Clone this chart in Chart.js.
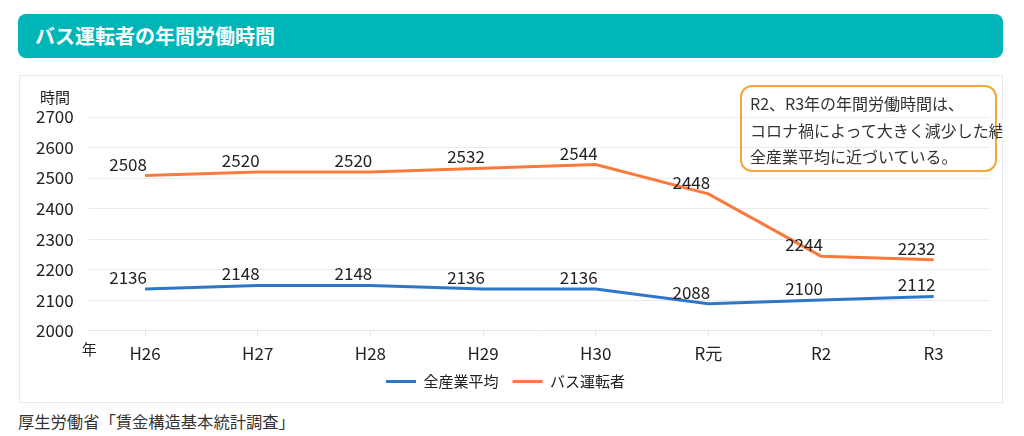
<!DOCTYPE html>
<html>
<head>
<meta charset="utf-8">
<script src="https://cdn.jsdelivr.net/npm/chart.js@4"></script>
<style>
  body { margin: 0; background: #fff; font-family: "Noto Sans CJK JP", "Noto Sans", sans-serif; color: #222; }
  #title {
    position: absolute; left: 18px; top: 14px; width: 985px; height: 44px;
    background: #00b5b8; border-radius: 8px; color: #fff;
    font-size: 20px; font-weight: bold; line-height: 44px; padding-left: 17px; box-sizing: border-box;
  }
  #box {
    position: absolute; left: 19px; top: 75px; width: 984px; height: 328px;
    border: 1px solid #e6e9ee; box-sizing: border-box; overflow: hidden;
  }
  #note {
    position: absolute; left: 720px; top: 9px; width: 257px; height: 87px;
    border: 2px solid #f7a53a; border-radius: 12px; box-sizing: border-box;
    font-size: 16px; line-height: 26.5px; padding: 3px 0 0 8px; white-space: nowrap; color: #333;
  }
  #src { position: absolute; left: 18px; top: 409px; font-size: 16.3px; color: #333; }
</style>
</head>
<body>
<div id="title">バス運転者の年間労働時間</div>
<div id="box">
  <canvas id="lineChart" width="982" height="326"></canvas>
  <div id="note">R2、R3年の年間労働時間は、<br>コロナ禍によって大きく減少した結果、<br>全産業平均に近づいている。</div>
</div>
<div id="src">厚生労働省「賃金構造基本統計調査」</div>
<script>
var years = ["H26", "H27", "H28", "H29", "H30", "R元", "R2", "R3"];
var allIndustry = [2136, 2148, 2148, 2136, 2136, 2088, 2100, 2112];
var busDrivers = [2508, 2520, 2520, 2532, 2544, 2448, 2244, 2232];
var yTicks = [2000, 2100, 2200, 2300, 2400, 2500, 2600, 2700];

var labelPlugin = {
    id: 'labels',
    afterDatasetsDraw: function(chart){
        var ctx = chart.ctx;
        ctx.save();
        ctx.font = '17px "Noto Sans CJK JP", sans-serif';
        ctx.fillStyle = '#222';
        ctx.textAlign = 'center';
        ctx.textBaseline = 'bottom';
        chart.data.datasets.forEach(function(ds, i){
            chart.getDatasetMeta(i).data.forEach(function(pt, j){
                ctx.fillText(ds.data[j], pt.x - 17, pt.y - 3);
            });
        });
        // axis captions
        ctx.font = '15px "Noto Sans CJK JP", sans-serif';
        ctx.textAlign = 'left';
        ctx.textBaseline = 'middle';
        ctx.fillText('時間', 20, 21);
        ctx.fillText('年', chart.chartArea.left - 7, chart.chartArea.bottom + 19);
        ctx.restore();
    }
};

window.onload = function(){
    var ctx = document.getElementById("lineChart").getContext('2d');
    var myLineChart = new Chart(ctx, {
        type: 'line',
        data: {
            labels: years,
            datasets: [
                {
                    label: "全産業平均",
                    data: allIndustry,
                    borderColor: "#2c77c9",
                    backgroundColor: "#2c77c9",
                    borderWidth: 3,
                    pointRadius: 0,
                    tension: 0
                },
                {
                    label: "バス運転者",
                    data: busDrivers,
                    borderColor: "#fa7a3c",
                    backgroundColor: "#fa7a3c",
                    borderWidth: 3,
                    pointRadius: 0,
                    tension: 0
                }
            ]
        },
        options: {
            responsive: false,
            animation: false,
            layout: { padding: { top: 41, right: 12, left: 1, bottom: 3 } },
            plugins: {
                tooltip: { enabled: false },
                legend: {
                    position: 'bottom',
                    labels: {
                        usePointStyle: true,
                        pointStyle: 'line',
                        pointStyleWidth: 30,
                        color: '#222',
                        font: { size: 15, family: '"Noto Sans CJK JP", sans-serif' },
                        padding: 14
                    }
                }
            },
            scales: {
                x: {
                    offset: true,
                    afterFit: function(axis){
                        // pull the legend closer; keep labels from being clipped
                        axis.height -= 11;
                        axis._computeLabelArea = function(){ return undefined; };
                    },
                    grid: { drawOnChartArea: false, drawTicks: true, tickLength: 6, color: '#e3e7ec' },
                    border: { color: '#e3e7ec' },
                    ticks: { color: '#222', padding: 7, font: { size: 17, family: '"Noto Sans CJK JP", sans-serif' } }
                },
                y: {
                    min: 2000,
                    max: 2700,
                    afterBuildTicks: function(axis){
                        axis.ticks = yTicks.map(function(v){ return { value: v }; });
                    },
                    grid: { color: '#e8ecf0', drawTicks: false },
                    border: { display: false },
                    ticks: {
                        color: '#222', padding: 15,
                        font: { size: 17, family: '"Noto Sans CJK JP", sans-serif' },
                        callback: function(v){ return String(v); }
                    }
                }
            }
        },
        plugins: [labelPlugin]
    });
}
</script>
</body>
</html>
